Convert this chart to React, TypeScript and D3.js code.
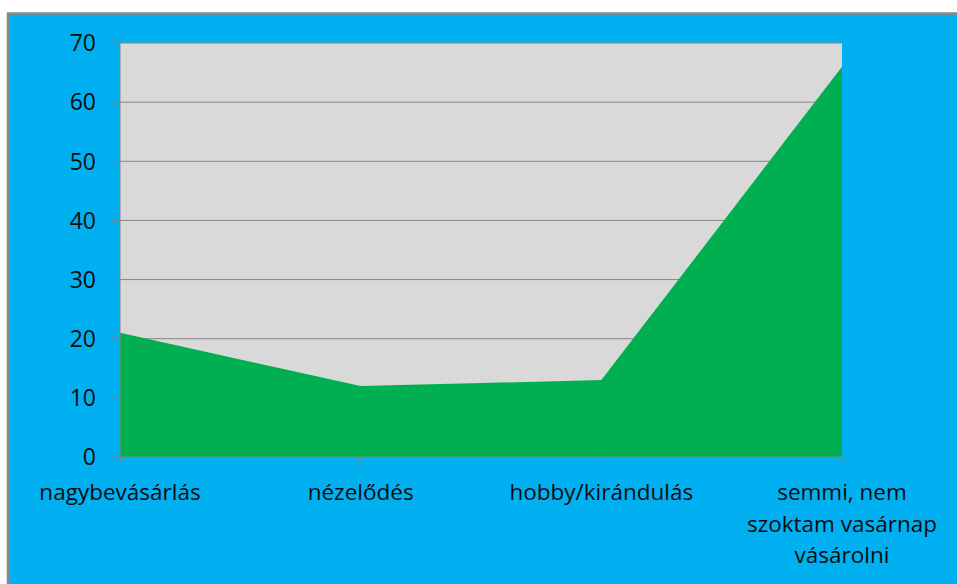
import React from "react";
import * as d3 from "d3";

const categories = ["nagybevásárlás", "nézelődés", "hobby/kirándulás", "semmi, nem szoktam vasárnap vásárolni"];
const categoryLines = [["nagybevásárlás"], ["nézelődés"], ["hobby/kirándulás"], ["semmi, nem", "szoktam vasárnap", "vásárolni"]];
const values = [21, 12, 13, 66];
const yTicks = [0, 10, 20, 30, 40, 50, 60, 70];

const W = 957, H = 584;
const plot = { left: 120, right: 842, top: 43, bottom: 457 };
const FONT = "'Open Sans', 'Noto Sans', sans-serif";

export default function App() {
  const x = d3.scalePoint<string>().domain(categories).range([plot.left, plot.right]);
  const y = d3.scaleLinear().domain([0, 70]).range([plot.bottom, plot.top]);
  const area = d3.area<number>()
    .x((_, i) => x(categories[i]) as number)
    .y0(y(0))
    .y1((d) => y(d));
  return (
    <div style={{ position: "absolute", left: 0, top: 0, width: W, height: H }}>
      <svg width={W} height={H} style={{ display: "block" }}>
        <rect x={0} y={0} width={W} height={H} fill="#ffffff" />
        <rect x={8} y={13.5} width={W + 10} height={H} fill="#00B0F0" stroke="#878787" strokeWidth={2.5} />
        <rect x={plot.left} y={plot.top} width={plot.right - plot.left} height={plot.bottom - plot.top} fill="#D9D9D9" />
        {yTicks.map((t) => (
          <line key={"g" + t} x1={plot.left} x2={plot.right} y1={y(t)} y2={y(t)} stroke="#868686" strokeWidth={1} />
        ))}
        <path d={area(values) || ""} fill="#00B050" />
        <line x1={plot.left} x2={plot.right} y1={y(0)} y2={y(0)} stroke="#868686" strokeWidth={1} />
        <line x1={plot.left} x2={plot.left} y1={plot.top} y2={plot.bottom} stroke="#868686" strokeWidth={1} />
        {yTicks.map((t) => (
          <g key={"t" + t}>
            <line x1={plot.left - 9} x2={plot.left} y1={y(t)} y2={y(t)} stroke="#868686" strokeWidth={1} />
            <text x={96} y={y(t)} dy="0.36em" textAnchor="end" fontFamily={FONT} fontSize={23} fill="#0d0d0d">{t}</text>
          </g>
        ))}
        {categories.map((c, i) => (
          <g key={c}>
            <line x1={x(c)} x2={x(c)} y1={plot.bottom} y2={plot.bottom + 9} stroke="#868686" strokeWidth={1} />
            <text x={x(c)} y={plot.bottom} textAnchor="middle" fontFamily={FONT} fontSize={22.5} fill="#0d0d0d">
              {categoryLines[i].map((ln, j) => (
                <tspan key={j} x={x(c)} y={500 + j * 31.5}>{ln}</tspan>
              ))}
            </text>
          </g>
        ))}
      </svg>
    </div>
  );
}
